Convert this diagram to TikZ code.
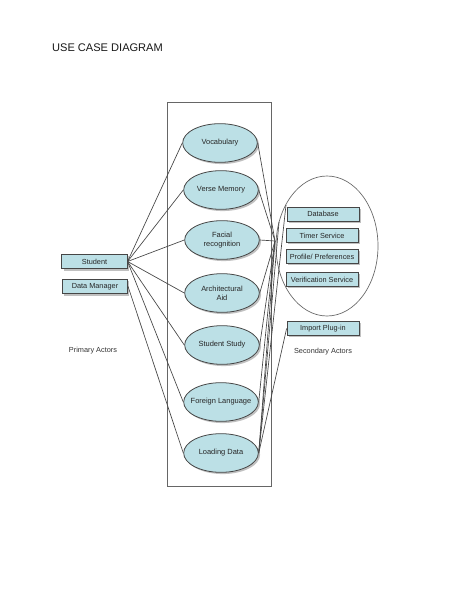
\documentclass[tikz,border=0pt]{standalone}
\usepackage{fontspec}
\setmainfont{Liberation Sans}
\usetikzlibrary{shapes.geometric,shadows}
\definecolor{ucfill}{RGB}{188,224,230}
\definecolor{edgecol}{RGB}{70,70,70}
\begin{document}
\begin{tikzpicture}[x=0.75pt,y=-0.75pt,
 shadowed/.style={drop shadow={shadow xshift=1.3pt,shadow yshift=-1.3pt,fill=black!35,opacity=0.7}},
 usecase/.style={ellipse,draw=edgecol,line width=0.6pt,fill=ucfill,shadowed,minimum width=56pt,minimum height=29pt,inner sep=0pt,font=\fontsize{5.6}{6.8}\selectfont,align=center,text=black!85},
 actor/.style={rectangle,draw=edgecol,line width=0.6pt,fill=ucfill,shadowed,minimum width=49pt,minimum height=11pt,inner sep=0pt,font=\fontsize{5.5}{6.5}\selectfont,text=black!85},
 secactor/.style={actor,minimum width=54pt,minimum height=10.5pt},
 link/.style={draw=edgecol,line width=0.5pt},
 caption/.style={font=\fontsize{5.5}{6.5}\selectfont,text=black!80}]
\useasboundingbox[fill=white] (0,0) rectangle (474,613);
% title
\node[font=\fontsize{8.3}{10}\selectfont,text=black!90] (title) at (107.5,48) {USE CASE DIAGRAM};
% system boundary
\draw[draw=black!60,line width=0.6pt] (167,102) rectangle (271,486);
% secondary actors ellipse
\node[ellipse,draw=black!60,line width=0.5pt,minimum width=76.5pt,minimum height=105pt,inner sep=0pt] (sec) at (327,246) {};
% hubs on the ellipse
\coordinate (hub) at (275,241);
\coordinate (h2) at (279,222);
\coordinate (h3) at (286,205);
% use cases
\node[usecase] (voc) at (220,143) {Vocabulary};
\node[usecase] (verse) at (221,190) {Verse Memory};
\node[usecase] (face) at (222,240) {Facial\\recognition};
\node[usecase] (arch) at (222,293) {Architectural\\Aid};
\node[usecase] (study) at (222,345) {Student Study};
\node[usecase] (lang) at (221,402) {\makebox[0pt]{Foreign Language}};
\node[usecase] (load) at (221,453) {Loading Data};
% primary actors
\node[actor] (student) at (94.5,261.5) {Student};
\node[actor] (dm) at (95,286.5) {Data Manager};
\node[caption] (prim) at (93,351) {Primary Actors};
% secondary actors
\node[secactor] (db) at (323,214) {Database};
\node[secactor] (timer) at (322,235.5) {Timer Service};
\node[secactor] (prof) at (322,256.5) {Profile/ Preferences};
\node[secactor] (verif) at (322,279.5) {Verification Service};
\node[secactor] (imp) at (323,328.5) {Import Plug-in};
\node[caption] (secl) at (323,352) {Secondary Actors};
% links from primary actors
\foreach \u in {voc,verse,face,arch,study,lang}
  \draw[link] (student.east) -- (\u.west);
\draw[link] (dm.east) -- (load.west);
% links to secondary actors
\foreach \u in {voc,verse,face,arch,study,lang,load}
  \draw[link] (\u.east) -- (hub);
\draw[link] (load.east) -- (h2);
\draw[link] (load.east) -- (h3);
\draw[link] (load.east) -- (imp.west);
\end{tikzpicture}
\end{document}
